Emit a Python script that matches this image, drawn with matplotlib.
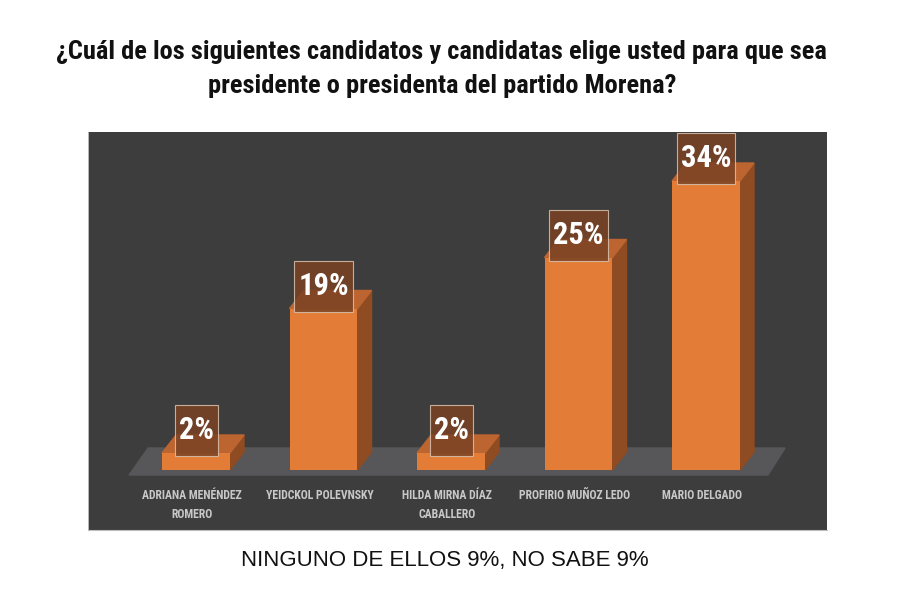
import matplotlib
matplotlib.use("Agg")
import matplotlib.pyplot as plt
from matplotlib import font_manager
from matplotlib.patches import Polygon, Rectangle
from matplotlib.transforms import IdentityTransform

# data
candidates = ["ADRIANA MENÉNDEZ\nROMERO", "YEIDCKOL POLEVNSKY", "HILDA MIRNA DÍAZ\nCABALLERO",
              "PROFIRIO MUÑOZ LEDO", "MARIO DELGADO"]
values = [2, 19, 2, 25, 34]
value_labels = ["2%", "19%", "2%", "25%", "34%"]
title = ("¿Cuál de los siguientes candidatos y candidatas elige usted para que sea\n"
         "presidente o presidenta del partido Morena?")
footnote = "NINGUNO DE ELLOS 9%, NO SABE 9%"

# pick a narrow font if there is one
names = {f.name for f in font_manager.fontManager.ttflist}
narrow = "DejaVu Sans"
for cand in ["Liberation Sans Narrow", "DejaVu Sans Condensed", "Roboto Condensed", "Open Sans Condensed"]:
    if cand in names:
        narrow = cand
        break

front = "#e27c37"
side = "#8f4b22"
top = "#bd6530"
panel = "#3d3d3d"
floor = "#575759"

fig = plt.figure(figsize=(9, 5.94), dpi=100)
fig.patch.set_facecolor("white")
ax = fig.add_axes([0.0978, 0.1077, 0.8211, 0.6700])
ax.set_facecolor(panel)
ax.set_xlim(-0.847, 4.949)
ax.set_ylim(-7.06, 39.76)
ax.set_xticks([])
ax.set_yticks([])
for s in ax.spines.values():
    s.set_visible(False)
ax.spines["bottom"].set_visible(True)
ax.spines["bottom"].set_color("#bdbdbd")
ax.spines["left"].set_visible(True)
ax.spines["left"].set_color("#d0d0d0")
ax.spines["left"].set_linewidth(0.6)

# floor
ax.add_patch(Polygon([(-0.525, -0.59), (-0.376, 2.59), (4.62, 2.59), (4.486, -0.59)],
                     closed=True, color=floor, zorder=1))

w = 0.533
dx, dy = 0.11, 2.12
xs = list(range(len(values)))
ax.bar(xs, values, width=w, color=front, zorder=3)
for x, v, name in zip(xs, values, candidates):
    r = x + w / 2
    l = x - w / 2
    ax.add_patch(Polygon([(r, 0), (r + dx, dy), (r + dx, v + dy), (r, v)], closed=True,
                         color=side, zorder=2))
    ax.add_patch(Polygon([(l, v), (r, v), (r + dx, v + dy), (l + dx, v + dy)], closed=True,
                         color=top, zorder=2))
    ax.text(x - 0.03, -2.2, name, ha="center", va="top", fontsize=8.5,
            fontweight="bold", color="#c8c8c8", family=narrow, linespacing=1.65)

# value labels with boxes
texts = []
for x, v, lab in zip(xs, values, value_labels):
    t = ax.annotate(lab, (x, v), xytext=(0, 16.5), textcoords="offset points", ha="center",
                    va="center", fontsize=22, fontweight="bold", color="white",
                    family=narrow, zorder=6)
    texts.append((t, x, v))

fig.text(0.491, 0.884, title, ha="center", va="center", fontsize=19, fontweight="bold",
         family=narrow, color="#111111", linespacing=1.55)
fig.text(0.494, 0.0556, footnote, ha="center", va="center", fontsize=16,
         family="Liberation Sans", color="#111111")

fig.canvas.draw()
r = fig.canvas.get_renderer()
for t, x, v in texts:
    bb = t.get_window_extent(r)
    base = ax.transData.transform((x, v))[1]
    bw = bb.width + 8
    ax.add_patch(Rectangle((bb.x0 - 4, base - 3), bw, 51, transform=IdentityTransform(),
                           facecolor="#7a4224", alpha=0.85, edgecolor="#d9c2b0",
                           linewidth=0.8, zorder=5))

fig.savefig("out.png", dpi=100)
